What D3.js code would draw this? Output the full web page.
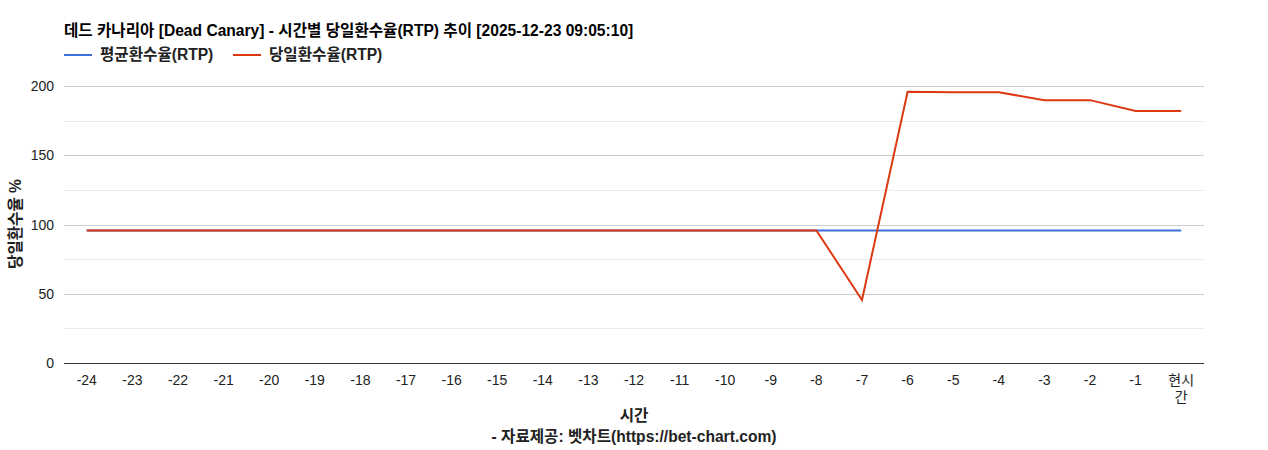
<!DOCTYPE html>
<html>
<head>
<meta charset="utf-8">
<script src="https://cdn.jsdelivr.net/npm/d3@7"></script>
<style>
  body { margin: 0; background: #fff; }
  text { font-family: Arial, "Liberation Sans", "Noto Sans CJK KR", sans-serif; }
</style>
</head>
<body>
<div class="canvas"></div>
<script>
// chart data
const hours = ['-24','-23','-22','-21','-20','-19','-18','-17','-16','-15','-14','-13','-12',
    '-11','-10','-9','-8','-7','-6','-5','-4','-3','-2','-1','현시간'];
const avgRtp = [95.7,95.7,95.7,95.7,95.7,95.7,95.7,95.7,95.7,95.7,95.7,95.7,95.7,
    95.7,95.7,95.7,95.7,95.7,95.7,95.7,95.7,95.7,95.7,95.7,95.7];
const dayRtp = [95.7,95.7,95.7,95.7,95.7,95.7,95.7,95.7,95.7,95.7,95.7,95.7,95.7,
    95.7,95.7,95.7,95.7,45.5,195.8,195.4,195.4,189.8,189.8,181.9,181.9];
const yTicks = [0, 50, 100, 150, 200];
const yMinorTicks = [25, 75, 125, 175];

const dims = { width: 1268, height: 450 };
const plot = { left: 64, right: 1204, top: 86, bottom: 363 };
const boldSize = 15.6;

const svg = d3.select('.canvas')
    .append('svg')
    .attr('width', dims.width)
    .attr('height', dims.height);

const x = d3.scalePoint()
    .domain(hours)
    .range([plot.left, plot.right])
    .padding(0.5);

const y = d3.scaleLinear()
    .domain([0, 200])
    .range([plot.bottom, plot.top]);

// gridlines
svg.append('g')
    .selectAll('line')
    .data(yMinorTicks)
    .enter().append('line')
    .attr('x1', plot.left).attr('x2', plot.right)
    .attr('y1', d => Math.round(y(d)) + 0.5).attr('y2', d => Math.round(y(d)) + 0.5)
    .attr('stroke', '#ebebeb');

svg.append('g')
    .selectAll('line')
    .data(yTicks.filter(d => d > 0))
    .enter().append('line')
    .attr('x1', plot.left).attr('x2', plot.right)
    .attr('y1', d => Math.round(y(d)) + 0.5).attr('y2', d => Math.round(y(d)) + 0.5)
    .attr('stroke', '#cccccc');

// y tick labels
svg.append('g')
    .selectAll('text')
    .data(yTicks)
    .enter().append('text')
    .attr('x', plot.left - 10)
    .attr('y', d => y(d) + 5)
    .attr('text-anchor', 'end')
    .attr('font-size', 14)
    .attr('fill', '#222')
    .text(d => d);

// lines
const line = d3.line()
    .x((d, i) => x(hours[i]))
    .y(d => y(d));

svg.append('path')
    .datum(avgRtp)
    .attr('fill', 'none')
    .attr('stroke', '#3d6fdc')
    .attr('stroke-width', 2)
    .attr('d', line);

svg.append('path')
    .datum(dayRtp)
    .attr('fill', 'none')
    .attr('stroke', '#dc3912')
    .attr('stroke-width', 2)
    .attr('d', line);

// baseline
svg.append('line')
    .attr('x1', plot.left).attr('x2', plot.right)
    .attr('y1', Math.round(y(0)) + 0.5).attr('y2', Math.round(y(0)) + 0.5)
    .attr('stroke', '#333');

// x tick labels (wrap the last one like the original)
const xLabels = svg.append('g')
    .selectAll('text')
    .data(hours)
    .enter().append('text')
    .attr('x', d => x(d))
    .attr('y', plot.bottom + 22)
    .attr('text-anchor', 'middle')
    .attr('font-size', 14)
    .attr('fill', '#222');

xLabels.each(function(d) {
    const t = d3.select(this);
    if (d.length > 2 && !d.startsWith('-')) {
        t.append('tspan').attr('x', x(d)).attr('dy', 0).text(d.slice(0, 2));
        t.append('tspan').attr('x', x(d)).attr('dy', 17).text(d.slice(2));
    } else {
        t.text(d);
    }
});

// title
svg.append('text')
    .attr('x', plot.left)
    .attr('y', 36)
    .attr('font-size', boldSize)
    .attr('font-weight', 'bold')
    .attr('fill', '#000')
    .text('데드 카나리아 [Dead Canary] - 시간별 당일환수율(RTP) 추이 [2025-12-23 09:05:10]');

// legend
const legend = [
    { name: '평균환수율(RTP)', color: '#3d6fdc', x: 64 },
    { name: '당일환수율(RTP)', color: '#dc3912', x: 233 }
];
const lg = svg.append('g')
    .selectAll('g')
    .data(legend)
    .enter().append('g')
    .attr('transform', d => `translate(${d.x}, 55)`);
lg.append('line')
    .attr('x1', 0).attr('x2', 28)
    .attr('stroke', d => d.color)
    .attr('stroke-width', 2);
lg.append('text')
    .attr('x', 36)
    .attr('y', 5)
    .attr('font-size', boldSize)
    .attr('font-weight', 'bold')
    .attr('fill', '#222')
    .text(d => d.name);

// axis titles
svg.append('text')
    .attr('transform', `translate(21, 224) rotate(-90)`)
    .attr('text-anchor', 'middle')
    .attr('font-size', boldSize)
    .attr('font-weight', 'bold')
    .attr('fill', '#222')
    .text('당일환수율 %');

svg.append('text')
    .attr('x', 634)
    .attr('y', 421)
    .attr('text-anchor', 'middle')
    .attr('font-size', boldSize)
    .attr('font-weight', 'bold')
    .attr('fill', '#222')
    .text('시간');

svg.append('text')
    .attr('x', 634)
    .attr('y', 442)
    .attr('text-anchor', 'middle')
    .attr('font-size', boldSize)
    .attr('font-weight', 'bold')
    .attr('fill', '#222')
    .text('- 자료제공: 벳차트(https://bet-chart.com)');
</script>
</body>
</html>
